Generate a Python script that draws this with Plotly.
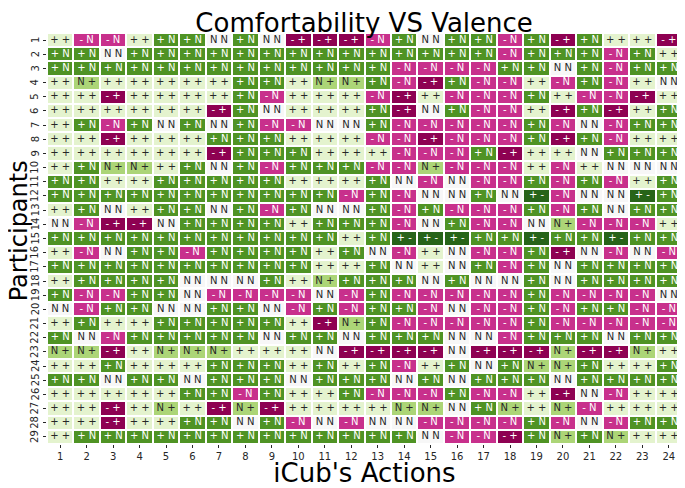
import plotly.graph_objects as go

actions = [str(i) for i in range(1, 25)]
participants = [str(i) for i in range(1, 30)]

rows = [
    "++ -N -N ++ +N +N NN +N NN -+ -+ -+ -N +N NN +N +N -N +N -+ +N ++ ++ -+",
    "+N +N NN +N +N +N +N +N +N +N +N +N +N +N +N +N +N -N +N +N +N -N +N ++",
    "+N +N +N +N +N +N +N +N +N +N +N +N +N -N -N -N -N +N +N NN +N -N +N +N",
    "++ N+ ++ ++ ++ ++ ++ +N +N ++ N+ N+ +N -N -+ +N -N -N ++ -N +N -N ++ NN",
    "++ ++ -+ ++ ++ ++ ++ +N -N ++ ++ ++ -N -+ ++ -N -N -N +N ++ -N -N -+ ++",
    "++ ++ ++ ++ ++ ++ -+ +N NN ++ ++ ++ +N -+ NN +N -N -N ++ -+ +N -+ ++ +N",
    "++ +N -N +N NN +N NN +N -N -N NN NN +N -N -N -N -N -N +N -N NN -N +N +N",
    "++ ++ -+ ++ ++ ++ +N +N +N ++ ++ ++ -N -N -+ -N -N -N +N -+ +N -N ++ ++",
    "++ ++ ++ ++ ++ ++ -+ +N +N +N ++ ++ ++ -N -N -N +N -+ ++ ++ NN +N +N +N",
    "++ +N N+ N+ ++ +N NN +N -N +N +N +N -N -N N+ -N -N -N ++ -N ++ NN NN NN",
    "+N +N ++ ++ +N +N +N +N +N ++ ++ ++ +N NN -N NN -N -N +N -N +N -N ++ +N",
    "+N +N +N +N +N +N +N +N +N +N +N -N +N -N NN NN +N NN +- -N NN NN +- +N",
    "++ +N NN ++ +N +N NN +N -N +N NN NN +N -N +N -N -N -N +N -N +N NN +N +N",
    "NN -N -+ -+ NN +N +N +N +N ++ +N +N +N -N NN +N -N -N NN N+ -N -N -N ++",
    "+N +N +N +N +N +N +N +N +N +N +N ++ +N +- +- +- +N +N +- +N +N +- +N +N",
    "++ -N NN +N +N -N +N +N +N +N ++ +N NN -N ++ NN -N -N +N -+ NN -N NN -N",
    "+N +N +N +N +N +N +N +N +N +N ++ ++ +N NN ++ NN +N -N +N NN +N +N +N +N",
    "++ +N +N +N +N NN NN NN +N ++ N+ +N +N +N NN +N NN NN +N NN +N +N +N +N",
    "+N -N -N +N +N NN -N -N -N -N NN -N +N -N -N -N -N -N +N -N -N -N -N NN",
    "NN -N +N +N NN NN +N +N NN -N +N -N +N +N -N NN -N -N +N -N +N +N -N -N",
    "++ +N ++ ++ +N +N +N +N +N ++ -+ N+ +N -N -N -N -N -N +N -N -N -N -N -N",
    "+N NN -N +N +N +N +N +N NN +N +N NN +N +N +N NN NN -N +N +N +N NN +N +N",
    "N+ N+ -+ ++ N+ N+ N+ ++ ++ ++ NN -+ -+ -+ -+ NN -+ -+ -+ N+ -+ -+ N+ ++",
    "++ ++ +N ++ ++ ++ +N +N +N ++ +N ++ +N -N ++ +N NN +N N+ N+ +N ++ ++ +N",
    "+N +N NN +N +N NN +N +N +N NN +N +N +N NN +N NN +N +N +N NN +N +N +N +N",
    "++ ++ ++ ++ ++ +N +N -N +N ++ ++ +N -N -N -N +N -N -N ++ -+ NN -N ++ ++",
    "++ ++ -+ ++ N+ ++ -+ N+ -+ ++ ++ ++ ++ N+ N+ NN +N N+ ++ N+ -N ++ ++ ++",
    "++ ++ -+ ++ ++ +N +N NN +N -N NN -N NN NN -N -N -N -N +N -N NN -N +N +N",
    "++ +N +N +N +N +N +N +N +N +N +N +N +N +N NN -N -N -+ +N N+ +N N+ ++ ++",
]
labels = [r.split() for r in rows]

categories = ["-+", "-N", "NN", "++", "N+", "+N", "+-"]
cat_colors = ["#8e0152", "#c8308c", "#f7f7f7", "#e4f3ce", "#acd577", "#4f9324", "#276419"]
dark_text = {"NN", "++", "N+"}

code = {c: i for i, c in enumerate(categories)}
z = [[code[v] for v in row] for row in labels]

n = len(categories)
colorscale = []
for i, col in enumerate(cat_colors):
    colorscale.append([i / n, col])
    colorscale.append([(i + 1) / n, col])

xi = list(range(len(actions)))
yi = list(range(len(participants)))

fig = go.Figure()
fig.add_trace(go.Heatmap(
    z=z, x=xi, y=yi, zmin=-0.5, zmax=n - 0.5,
    colorscale=colorscale, showscale=False, xgap=2, ygap=2, hoverinfo="skip"))

for dark in (True, False):
    xs, ys, ts = [], [], []
    for r, row in enumerate(labels):
        for c, v in enumerate(row):
            if (v in dark_text) == dark:
                xs.append(xi[c]); ys.append(yi[r]); ts.append(v[0] + " " + v[1])
    fig.add_trace(go.Scatter(
        x=xs, y=ys, text=ts, mode="text", hoverinfo="skip",
        textfont=dict(family="DejaVu Sans", size=10, color="#262626" if dark else "white")))

# rotated y tick labels
for j, p in enumerate(participants):
    fig.add_annotation(text=p, x=-0.5, xref="x", xshift=-12, xanchor="center", yanchor="middle",
                       y=yi[j], yref="y", textangle=-90, showarrow=False,
                       font=dict(family="DejaVu Sans", size=10, color="#262626"))

# y axis title
fig.add_annotation(text="Participants", xref="paper", yref="paper", x=-0.0441, y=0.52,
                   xanchor="center", yanchor="middle", textangle=-90, showarrow=False,
                   font=dict(family="DejaVu Sans", size=24, color="black"))

fig.update_layout(
    width=677, height=480, margin=dict(l=39, r=3, t=25, b=44, autoexpand=False),
    paper_bgcolor="white", plot_bgcolor="white", showlegend=False,
    font=dict(family="DejaVu Sans", color="#262626"),
    title=dict(text="Comfortability VS Valence", x=0.526, xanchor="center", y=0.9875, yanchor="top",
               pad=dict(t=0), font=dict(size=26, color="black")),
)
fig.update_xaxes(range=[-0.5, len(actions) - 0.5], tickvals=xi, ticktext=actions, automargin=False,
                 title=dict(text="iCub's Actions", font=dict(size=26, color="black"), standoff=0),
                 tickfont=dict(size=10), ticks="outside", ticklen=3, tickcolor="#262626",
                 showgrid=False, zeroline=False, showline=False)
fig.update_yaxes(range=[len(participants) - 0.5, -0.5], tickvals=yi, showticklabels=False, automargin=False,
                 ticks="outside", ticklen=3, tickcolor="#262626",
                 showgrid=False, zeroline=False, showline=False)

fig.write_html("out.html")
